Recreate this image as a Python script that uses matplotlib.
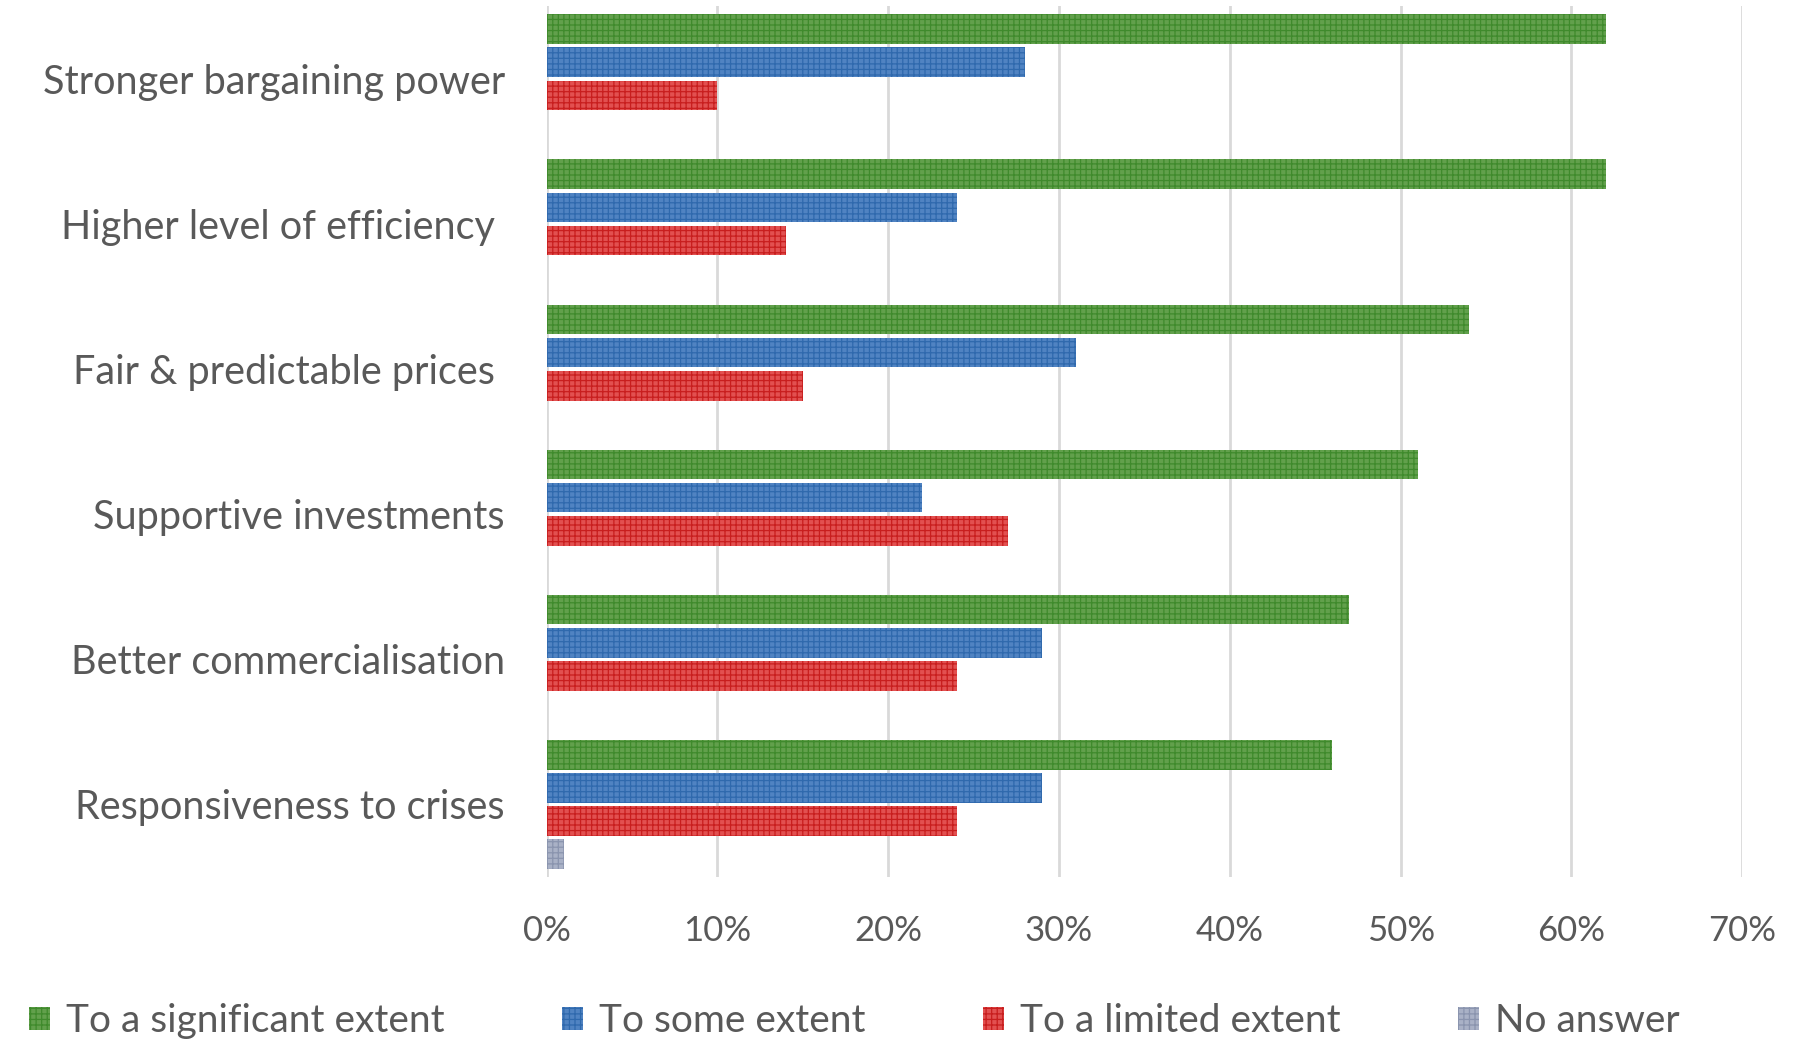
import numpy as np
import matplotlib
matplotlib.use("Agg")
import matplotlib.pyplot as plt

# data (percent of respondents)
categories = ["Stronger bargaining power", "Higher level of efficiency ",
              "Fair & predictable prices ", "Supportive investments",
              "Better commercialisation", "Responsiveness to crises"]
significant = [62, 62, 54, 51, 47, 46]
some = [28, 24, 31, 22, 29, 29]
limited = [10, 14, 15, 27, 24, 24]
no_answer = [0, 0, 0, 0, 0, 1]

series_names = ["To a significant extent", "To some extent",
                "To a limited extent", "No answer"]
tick_labels = ["0%", "10%", "20%", "30%", "40%", "50%", "60%", "70%"]

plt.rcParams['font.family'] = ['Lato', 'DejaVu Sans']
plt.rcParams['hatch.linewidth'] = 0.9
text_col = '#595959'

fig = plt.figure(figsize=(17.98, 10.41), dpi=100)
ax = fig.add_axes([0.304, 0.1575, 0.665, 0.8365])

y = np.arange(len(categories))
pitch = 29 / 127
height = 26 / 127
styles = [('#62a04c', '#3f8a2c'), ('#5083c2', '#2f69ad'),
          ('#e25050', '#c81e1e'), ('#a9b1c6', '#8a94ae')]
all_vals = [significant, some, limited, no_answer]

for i, (vals, name, (fc, hc)) in enumerate(zip(all_vals, series_names, styles)):
    offs = (i - 1.5) * pitch
    ax.barh(y + offs, vals, height=height, color=fc, edgecolor=hc,
            hatch='+++', linewidth=0, label=name, zorder=3)

ax.set_xlim(0, 70)
ax.set_ylim(len(categories) - 0.5, -0.5)
ax.set_xticks(np.arange(0, 71, 10))
ax.set_xticklabels(tick_labels)
ax.set_yticks(y)
ax.set_yticklabels(categories, fontsize=28.5)
ax.tick_params(axis='both', length=0, labelsize=25, colors=text_col)
ax.tick_params(axis='y', pad=30, labelsize=28.5)
ax.tick_params(axis='x', pad=27)
ax.xaxis.grid(True, color='#d9d9d9', linewidth=2, zorder=0)
for s in ax.spines.values():
    s.set_visible(False)

fig.legend(loc='center left', bbox_to_anchor=(29 / 1798, 1 - 1021 / 1041),
           ncol=4, frameon=False, fontsize=28, labelcolor=text_col,
           borderpad=0, borderaxespad=0,
           handlelength=0.55, handleheight=0.55, handletextpad=0.4,
           columnspacing=3.02)

fig.savefig("out.png", dpi=100)
